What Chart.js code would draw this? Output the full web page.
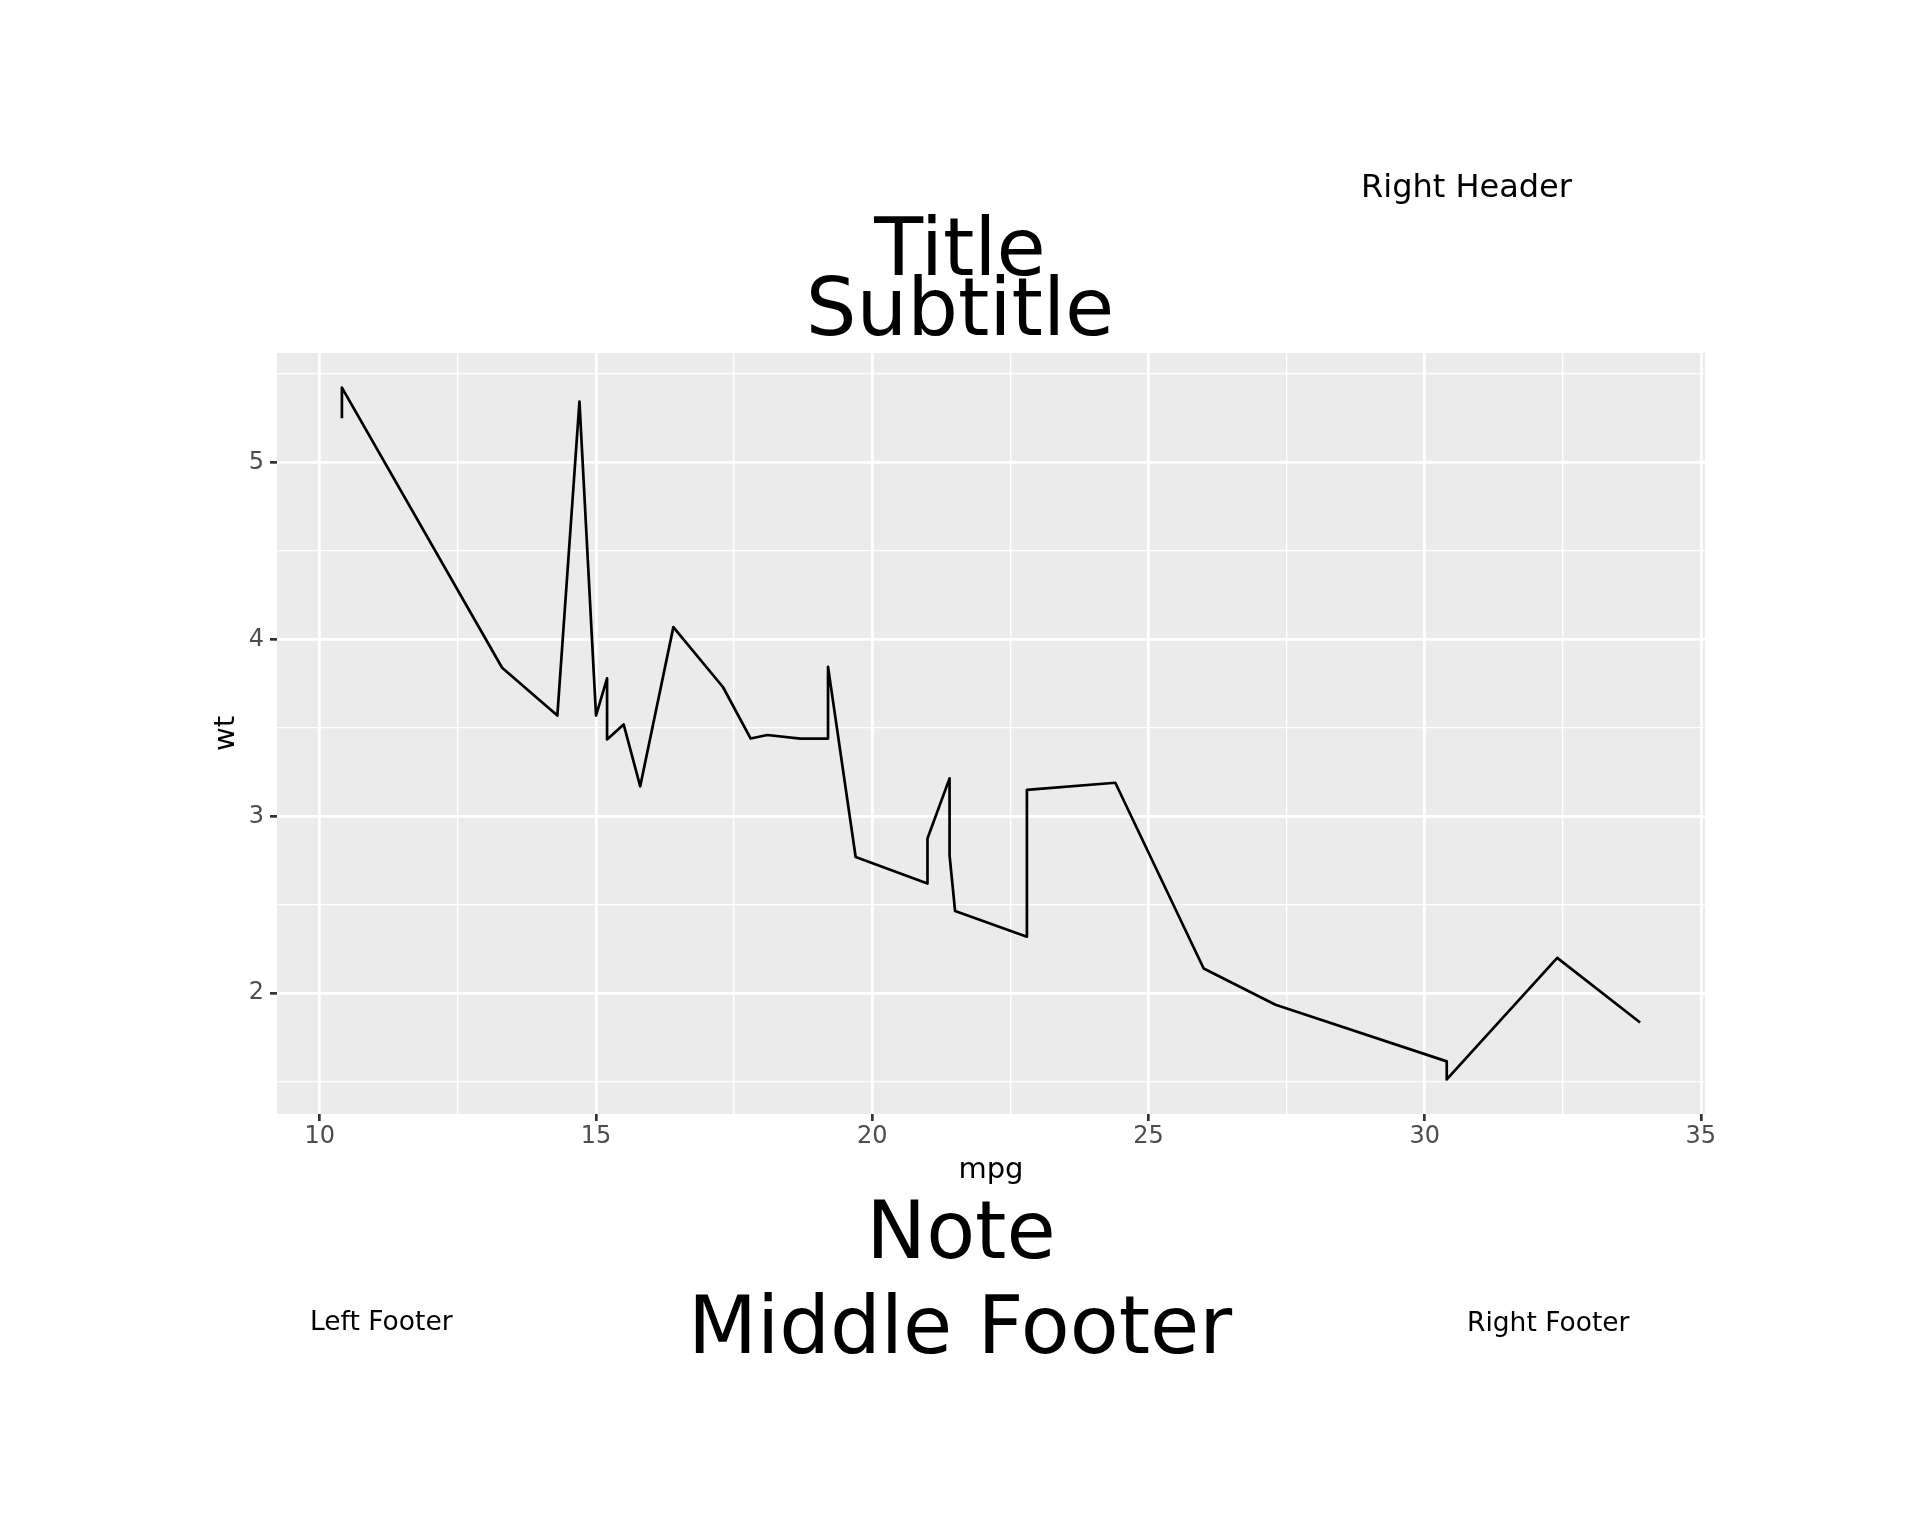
<!DOCTYPE html>
<html>
<head>
<meta charset="utf-8">
<script src="https://cdn.jsdelivr.net/npm/chart.js@4.4.1/dist/chart.umd.min.js"></script>
<style>
  html, body { margin: 0; padding: 0; background: #fff; }
  #wrap { width: 1920px; height: 1536px; }
</style>
</head>
<body>
<div id="wrap"><canvas id="chart" width="1920" height="1536"></canvas></div>
<script>
// mtcars, in data order
const carMpg = [21.0, 21.0, 22.8, 21.4, 18.7, 18.1, 14.3, 24.4, 22.8, 19.2, 17.8, 16.4, 17.3, 15.2, 10.4, 10.4,
    14.7, 32.4, 30.4, 33.9, 21.5, 15.5, 15.2, 13.3, 19.2, 27.3, 26.0, 30.4, 15.8, 19.7, 15.0, 21.4];
const carWt = [2.620, 2.875, 2.320, 3.215, 3.440, 3.460, 3.570, 3.190, 3.150, 3.440, 3.440, 4.070, 3.730, 3.780, 5.250, 5.424,
    5.345, 2.200, 1.615, 1.835, 2.465, 3.520, 3.435, 3.840, 3.845, 1.935, 2.140, 1.513, 3.170, 2.770, 3.570, 2.780];

const xMajor = [10, 15, 20, 25, 30, 35];
const xMinor = [12.5, 17.5, 22.5, 27.5, 32.5];
const yMajor = [2, 3, 4, 5];
const yMinor = [1.5, 2.5, 3.5, 4.5, 5.5];

const FONT = "'DejaVu Sans', sans-serif";

// geom_line joins points in x order (stable for ties)
const points = carMpg.map((m, i) => ({ x: m, y: carWt[i] }))
    .sort((a, b) => a.x - b.x);

// ggplot's default 5% expansion of the data range
function expand(values) {
    const lo = Math.min(...values);
    const hi = Math.max(...values);
    const pad = (hi - lo) * 0.05;
    return { min: lo - pad, max: hi + pad };
}
const xRange = expand(carMpg);
const yRange = expand(carWt);

function gridFor(major) {
    return {
        color: '#ffffff',
        lineWidth: (c) => major.includes(c.tick.value) ? 2.7 : 1.35,
        drawTicks: true,
        tickLength: 7,
        tickColor: (c) => major.includes(c.tick.value) ? '#333333' : 'rgba(0,0,0,0)',
        tickWidth: 2.7
    };
}

const pagePlugin = {
    id: 'page',
    beforeDraw(chart) {
        const { ctx, chartArea: a } = chart;
        ctx.save();
        ctx.fillStyle = '#ffffff';
        ctx.fillRect(0, 0, chart.width, chart.height);
        ctx.fillStyle = '#EBEBEB';
        ctx.fillRect(a.left, a.top, a.right - a.left, a.bottom - a.top);
        ctx.restore();
    },
    afterDraw(chart) {
        const ctx = chart.ctx;
        const put = (text, size, x, y, align) => {
            ctx.font = size + 'px ' + FONT;
            ctx.textAlign = align;
            ctx.fillText(text, x, y);
        };
        ctx.save();
        ctx.fillStyle = '#000000';
        ctx.textBaseline = 'alphabetic';
        put('Right Header', 32, 1361, 197, 'left');
        put('Title', 80, 960, 275, 'center');
        put('Subtitle', 80, 960, 335, 'center');
        put('Note', 80, 961, 1258, 'center');
        put('Middle Footer', 80, 960, 1353, 'center');
        put('Left Footer', 26.5, 310, 1330, 'left');
        put('Right Footer', 26.5, 1467, 1331, 'left');
        ctx.restore();
    }
};

new Chart(document.getElementById('chart'), {
    type: 'scatter',
    data: {
        datasets: [
            {
                data: points,
                showLine: true,
                borderColor: '#000000',
                borderWidth: 2.7,
                borderJoinStyle: 'round',
                borderCapStyle: 'butt',
                pointRadius: 0,
                pointHoverRadius: 0,
                tension: 0
            }
        ]
    },
    options: {
        responsive: false,
        animation: false,
        devicePixelRatio: 1,
        events: [],
        layout: {
            padding: { left: 209, top: 353, right: 215, bottom: 348 }
        },
        plugins: {
            legend: { display: false },
            tooltip: { enabled: false }
        },
        scales: {
            x: {
                type: 'linear',
                min: xRange.min,
                max: xRange.max,
                afterBuildTicks: (axis) => {
                    axis.ticks = xMajor.concat(xMinor).sort((a, b) => a - b).map((v) => ({ value: v }));
                },
                afterFit: (axis) => { axis.height = 74; },
                grid: gridFor(xMajor),
                border: { display: false },
                ticks: {
                    autoSkip: false,
                    maxRotation: 0,
                    padding: 1.5,
                    color: '#4D4D4D',
                    font: { family: FONT, size: 24 },
                    callback: (v) => xMajor.includes(v) ? String(v) : ''
                },
                title: {
                    display: true,
                    text: 'mpg',
                    color: '#000000',
                    padding: 0,
                    font: { family: FONT, size: 29, lineHeight: 1.2 }
                }
            },
            y: {
                type: 'linear',
                min: yRange.min,
                max: yRange.max,
                afterBuildTicks: (axis) => {
                    axis.ticks = yMajor.concat(yMinor).sort((a, b) => a - b).map((v) => ({ value: v }));
                },
                afterFit: (axis) => { axis.width = 68; },
                grid: gridFor(yMajor),
                border: { display: false },
                ticks: {
                    autoSkip: false,
                    padding: 6,
                    color: '#4D4D4D',
                    font: { family: FONT, size: 24 },
                    callback: (v) => yMajor.includes(v) ? String(v) : ''
                },
                title: {
                    display: true,
                    text: 'wt',
                    color: '#000000',
                    padding: 0,
                    font: { family: FONT, size: 29, lineHeight: 1.2 }
                }
            }
        }
    },
    plugins: [pagePlugin]
});
</script>
</body>
</html>
